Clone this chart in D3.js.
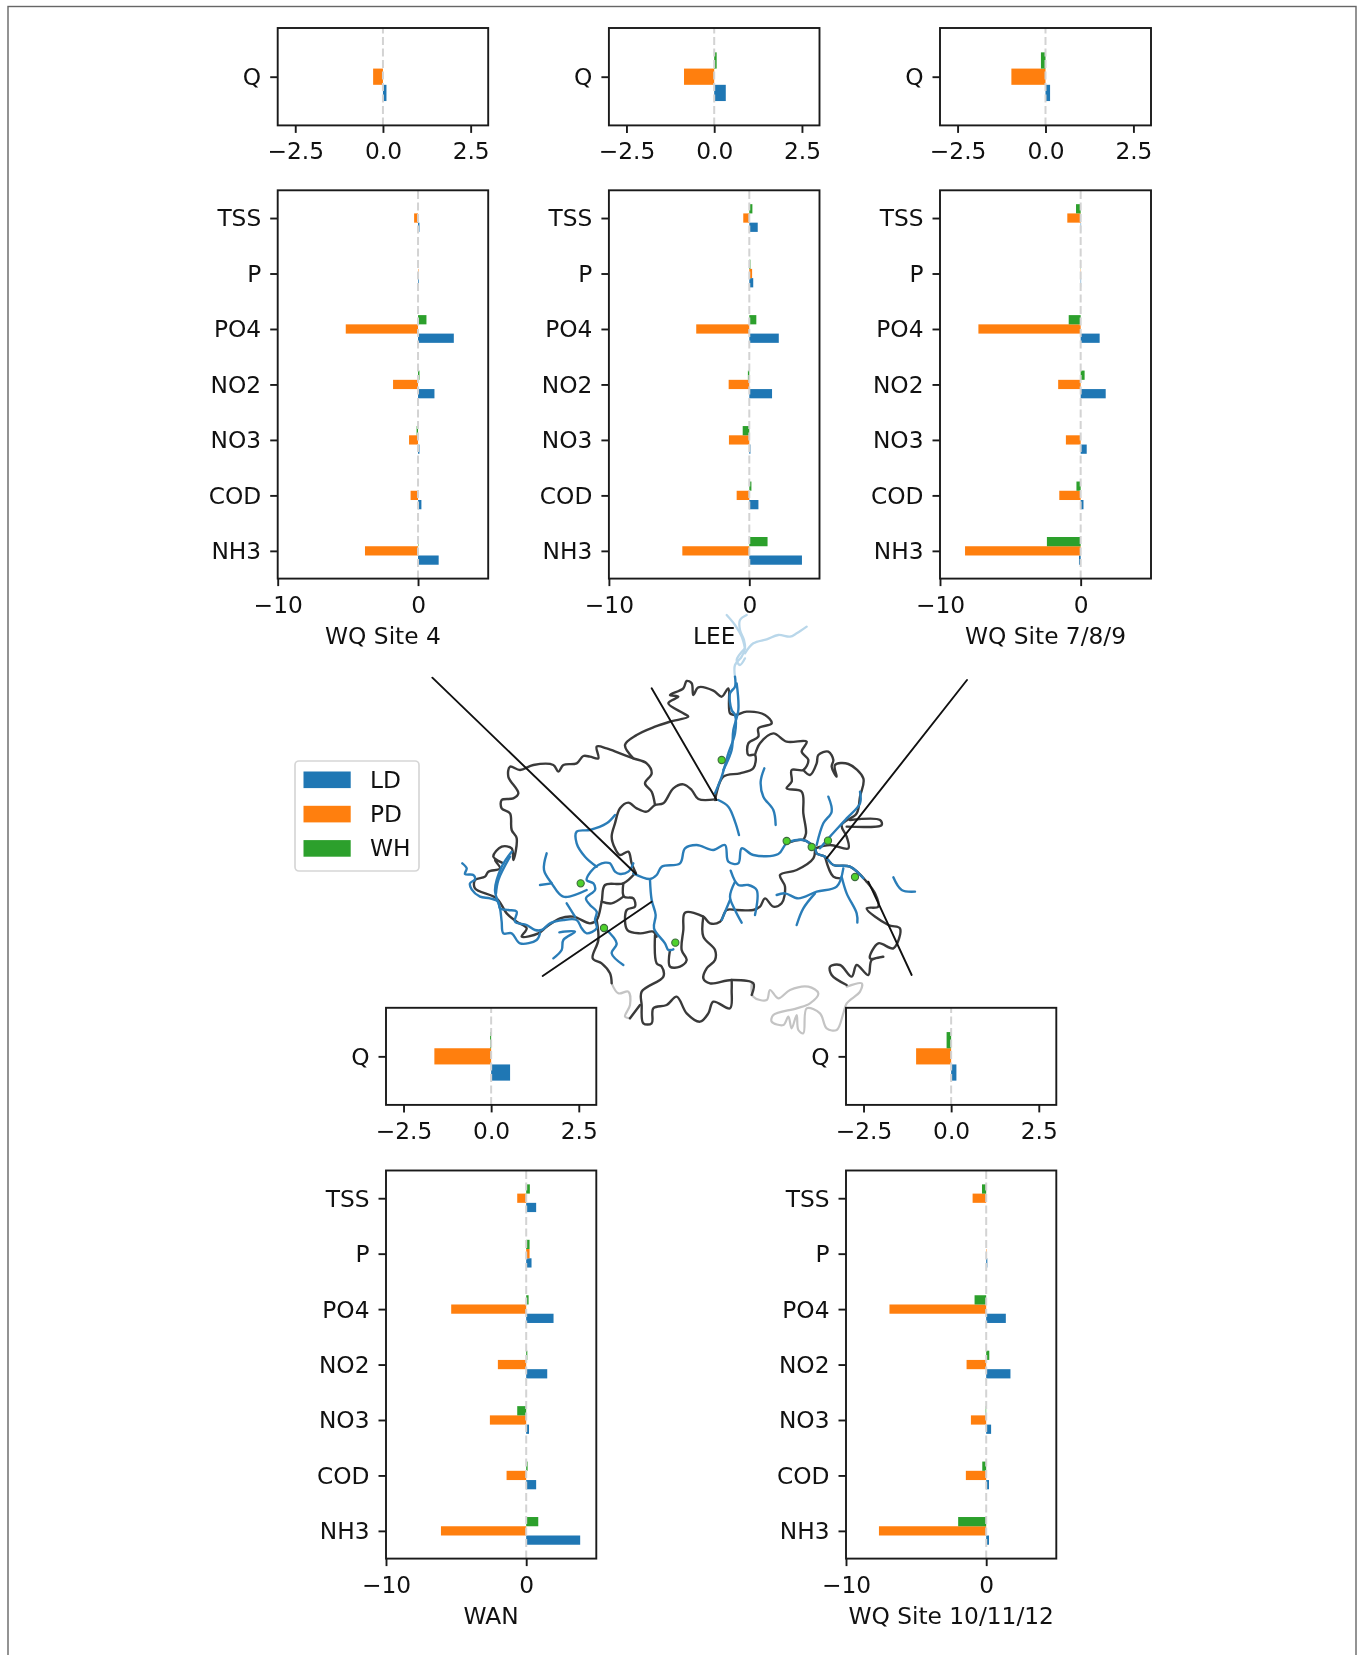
<!DOCTYPE html>
<html><head><meta charset="utf-8">
<script src="https://cdn.jsdelivr.net/npm/d3@7"></script>
<style>html,body{margin:0;padding:0;background:#fff}svg{display:block;filter:blur(0.45px)}text{font-family:"DejaVu Sans";fill:#111}</style>
</head><body><svg id="c" width="1363" height="1655"></svg>
<script>
const categories=["NH3","COD","NO3","NO2","PO4","P","TSS"];
const seriesNames=["LD","PD","WH"];
const seriesColors=["#1f77b4","#ff7f0e","#2ca02c"];
const mainTicks=[-10,0];
const qTicks=[-2.5,0,2.5];
const siteNames=["WQ Site 4","LEE","WQ Site 7/8/9","WAN","WQ Site 10/11/12"];
// values ordered as categories (NH3 ... TSS)
const site4LD=[1.47,0.24,0.1,1.17,2.55,0.05,0.1];
const site4PD=[-3.78,-0.53,-0.64,-1.78,-5.15,0.03,-0.28];
const site4WH=[0.03,0.0,-0.1,0.1,0.6,0,0];
const leeLD=[3.75,0.65,0.08,1.62,2.1,0.28,0.6];
const leePD=[-4.77,-0.9,-1.45,-1.47,-3.78,0.2,-0.43];
const leeWH=[1.3,0.15,-0.47,-0.1,0.5,0.08,0.22];
const site789LD=[-0.12,0.2,0.43,1.78,1.35,0.03,0.03];
const site789PD=[-8.22,-1.52,-1.05,-1.6,-7.27,0.02,-0.95];
const site789WH=[-2.4,-0.3,0,0.28,-0.85,0.02,-0.33];
const wanLD=[3.85,0.71,0.2,1.5,1.95,0.38,0.71];
const wanPD=[-6.08,-1.4,-2.59,-2.02,-5.35,0.24,-0.64];
const wanWH=[0.86,0.1,-0.64,0.08,0.17,0.24,0.26];
const site101112LD=[0.2,0.2,0.35,1.73,1.4,0.08,0];
const site101112PD=[-7.65,-1.45,-1.09,-1.4,-6.9,0.03,-0.97];
const site101112WH=[-2.0,-0.28,-0.04,0.22,-0.83,0,-0.3];
const qLD=[0.1,0.33,0.13,0.54,0.15];
const qPD=[-0.28,-0.86,-0.97,-1.62,-1.0];
const qWH=[0,0.07,-0.13,-0.03,-0.13];

// map geometry in source map units
const boundaries=[
[[885,598],[835,597],[815,570],[790,553],[760,565],[730,610],[705,615],[680,635],[650,625],[625,608],[600,625],[585,670],[575,710],[585,745],[600,765],[625,755],[635,790],[648,820]],
[[705,615],[695,575],[675,550],[695,520],[680,490],[640,475],[600,460],[560,445],[530,440],[535,475],[510,470],[490,468],[470,490],[430,495],[415,515],[400,495],[340,495],[300,510],[270,500],[265,530],[295,580],[280,595],[245,600],[245,625],[270,640],[275,690],[290,715],[280,780],[275,745],[245,740],[220,770],[250,790],[225,780],[240,805],[205,815],[195,830],[165,840],[165,865],[230,895],[260,940],[290,965],[320,985],[305,1010],[355,1000],[380,980],[420,955],[460,950],[510,970],[530,960],[545,905],[555,855],[610,850],[645,820]],
[[640,475],[615,435],[650,405],[705,380],[750,365],[805,350],[790,340],[745,310],[775,290],[750,285],[790,265],[800,243],[815,250],[820,285],[835,262],[880,272],[905,290],[925,265],[930,340],[945,345],[980,335],[1035,345],[1055,370],[1015,385],[1015,410],[985,430],[985,465],[1005,465],[1000,505],[960,520],[910,530],[885,600]],
[[1005,465],[1020,430],[1060,400],[1100,425],[1160,425],[1145,455],[1165,480],[1150,510],[1115,510],[1115,545],[1100,565],[1145,575],[1150,640],[1158,700],[1150,720]],
[[1150,510],[1170,525],[1190,490],[1195,465],[1225,455],[1240,480],[1235,500],[1250,530],[1245,495],[1285,492],[1330,535],[1320,590],[1310,640],[1265,675],[1280,710],[1285,745],[1230,735],[1185,745]],
[[1290,660],[1380,660],[1385,675],[1280,680]],
[[1100,730],[1150,720],[1185,745],[1190,760],[1215,770],[1240,795],[1290,800],[1340,845]],
[[1185,745],[1180,775],[1130,810],[1080,825],[1095,860],[1085,910],[1060,920],[1035,895],[1020,920],[1000,930],[950,930],[920,930],[900,965],[870,970],[850,950],[795,938],[790,990],[785,1050],[800,1080],[780,1100],[750,1100],[750,1050]],
[[850,950],[850,1010],[885,1050],[885,1080],[860,1105],[850,1135],[870,1150],[935,1140],[1000,1150],[995,1185]],
[[705,1005],[710,1090],[725,1100],[730,1130],[665,1175],[665,1215],[670,1270],[695,1270],[700,1225],[740,1215],[770,1190],[800,1240],[840,1265],[865,1240],[880,1205],[930,1225],[935,1170],[935,1140]],
[[660,1215],[630,1255]],
[[610,850],[612,890],[640,895],[645,920],[620,930],[622,990],[660,1000],[700,995],[710,1010]],
[[545,905],[575,910],[610,890]],
[[530,960],[535,1020],[518,1075],[545,1090],[570,1120],[575,1150]],
[[1215,770],[1240,830],[1265,835]],
[[1340,845],[1365,880],[1375,920],[1340,925],[1405,975],[1440,985],[1420,1045],[1375,1030],[1350,1075],[1390,1070],[1355,1080],[1345,1125],[1310,1095],[1295,1130],[1260,1095],[1230,1100],[1235,1125],[1280,1155]]
];
const coastGrey=[
[[575,1150],[595,1180],[625,1175],[630,1215],[615,1250],[630,1255]],
[[995,1150],[1000,1190],[1040,1200],[1050,1170],[1075,1195],[1110,1170],[1165,1160],[1195,1180],[1170,1210],[1130,1225],[1060,1245],[1055,1265],[1090,1275],[1105,1250],[1115,1285],[1130,1245],[1135,1290],[1150,1300],[1160,1225],[1200,1240],[1220,1285],[1250,1290],[1270,1240],[1280,1210],[1320,1175],[1325,1150],[1280,1160]]
];
const riversLight=[
[[920,45],[945,75],[965,110],[975,145]],
[[980,45],[960,60],[960,90],[972,120],[975,145],[965,170],[945,195],[945,230]],
[[975,160],[1000,130],[1040,118],[1075,105],[1110,110],[1130,100],[1160,80]],
[[975,145],[950,180],[960,195],[975,175]]
];
const rivers=[
[[127,790],[140,805],[135,822],[160,825],[165,838],[150,850],[155,868],[180,890],[210,895],[235,905],[240,925],[265,930],[290,935],[285,965],[320,975],[345,990],[365,990],[390,970],[430,960],[470,960],[485,985],[500,1000],[530,985],[525,960],[530,935],[510,915],[498,895],[525,870],[520,850],[500,840],[512,815],[535,795],[555,788],[570,790],[585,815],[600,822],[625,815],[640,790]],
[[640,820],[690,837],[710,825],[725,800],[780,790],[795,745],[830,735],[880,750],[915,735],[925,785],[955,790],[965,745],[1000,765],[1075,762],[1100,730],[1150,720],[1185,745],[1190,760],[1215,770],[1240,795],[1290,800],[1330,835]],
[[945,230],[945,260],[930,280],[935,330],[945,345],[945,400],[925,460],[905,530],[885,580]],
[[950,250],[955,330],[940,390],[935,450],[910,510]],
[[895,600],[925,620],[945,665],[957,705]],
[[1033,505],[1022,545],[1030,590],[1060,630],[1067,675]],
[[1225,590],[1235,635],[1210,670],[1190,735]],
[[1320,575],[1320,610],[1280,655],[1230,710],[1200,745]],
[[1420,832],[1445,870],[1485,875]],
[[1070,885],[1095,880],[1135,895],[1190,875],[1250,860],[1270,805]],
[[1185,880],[1150,925],[1130,975]],
[[1265,830],[1280,880],[1310,940],[1312,968]],
[[932,812],[955,855],[985,855],[1010,870],[1005,945]],
[[945,845],[930,890],[945,930],[965,968]],
[[930,900],[905,960]],
[[690,840],[695,900],[707,945],[702,985],[735,1030],[745,1050],[760,1048]],
[[585,645],[560,670],[510,690],[470,695],[470,730],[495,770],[530,800]],
[[380,760],[372,810],[395,850],[430,890],[500,870]],
[[360,855],[395,850]],
[[440,910],[465,950]],
[[418,997],[465,995],[430,1020],[425,1050],[400,1075]],
[[555,985],[590,1030],[575,1060],[610,1095]],
[[275,755],[245,800],[225,870],[240,925],[245,965],[250,1000],[275,1000],[300,1030],[350,1020],[360,1000]],
[[270,770],[235,840],[228,880]]
];
const sites=[[905,480],[482,850],[552,984],[766,1028],[1100,723],[1175,741],[1224,722],[1305,831]];
const leaders=[
[[37,233],[648,822]],
[[695,265],[890,600]],
[[1641,240],[1220,775]],
[[1475,1125],[1345,845]],
[[368,1128],[695,905]]
];

const svg=d3.select("#c");
const FS=23.3, INK="#1a1a1a";
svg.append("rect").attr("x",8).attr("y",6.5).attr("width",1348).attr("height",1700).attr("fill","none").attr("stroke","#666").attr("stroke-width",1.4);

// map
const mapX=d3.scaleLinear().domain([0,1560]).range([420,940]);
const mapY=d3.scaleLinear().domain([0,1350]).range([600,1050]);
const ln=d3.line().x(d=>mapX(d[0])).y(d=>mapY(d[1])).curve(d3.curveCatmullRom.alpha(0.5));
const gm=svg.append("g").attr("fill","none").attr("stroke-linejoin","round").attr("stroke-linecap","round");
const drawSet=(arr,col,w)=>gm.append("g").selectAll("path").data(arr).join("path").attr("d",ln).attr("stroke",col).attr("stroke-width",w);

// axes panel
function panel(x0,x1,qY0,qY1,mY0,mY1,i,ld,pd,wh){
  const g=svg.append("g");
  const sx=d3.scaleLinear().domain([-3,3]).range([x0,x1]);
  const mx=d3.scaleLinear().domain([-10,5]).range([x0,x1]);
  const yQ=d3.scaleLinear().domain([-0.5,0.5]).range([qY1,qY0]);
  const yM=d3.scaleLinear().domain([-0.5,6.5]).range([mY1,mY0]);
  const bw=0.5/3;
  function bars(xs,ys,rows){
    const gb=g.append("g");
    rows.forEach(([v,y,idx])=>{
      gb.append("rect").attr("x",Math.min(xs(0),xs(v))).attr("width",Math.abs(xs(v)-xs(0)))
        .attr("y",ys(y+bw/2)).attr("height",ys(y-bw/2)-ys(y+bw/2)).attr("fill",seriesColors[idx]);
    });
    gb.append("line").attr("x1",xs(0)).attr("x2",xs(0)).attr("y1",ys.range()[0]).attr("y2",ys.range()[1])
      .attr("stroke","#d3d3d3").attr("stroke-width",2).attr("stroke-dasharray","8,3.5");
  }
  bars(sx,yQ,[[qLD[i],-bw,0],[qPD[i],0,1],[qWH[i],bw,2]]);
  const rows=[];
  categories.forEach((c,k)=>{rows.push([ld[k],k-bw,0],[pd[k],k,1],[wh[k],k+bw,2]);});
  bars(mx,yM,rows);
  function frame(xs,ys,ticks,fmt,cats,pad){
    const b=ys.range()[0], t=ys.range()[1];
    const ax=g.append("g").attr("transform",`translate(0,${b})`).call(d3.axisBottom(xs).tickValues(ticks).tickFormat(fmt).tickSize(7.5).tickPadding(pad));
    const ay=g.append("g").attr("transform",`translate(${x0},0)`).call(cats);
    ay.selectAll("text").attr("dy","0.34em");
    [ax,ay].forEach(a=>{a.select(".domain").remove();a.selectAll("line").attr("stroke",INK).attr("stroke-width",1.9);a.selectAll("text").attr("font-family","DejaVu Sans").attr("font-size",FS).attr("fill",INK);});
    g.append("rect").attr("x",x0).attr("y",t).attr("width",x1-x0).attr("height",b-t).attr("fill","none").attr("stroke",INK).attr("stroke-width",1.9);
  }
  const zero=d=>d.toFixed(1).replace("-","\u2212");
  frame(sx,yQ,qTicks,zero,d3.axisLeft(d3.scaleLinear().domain([0,1]).range([yQ(0),yQ(0)])).tickValues([0]).tickFormat(()=>"Q").tickSize(7.5).tickPadding(9),9.8);
  frame(mx,yM,mainTicks,d=>String(d).replace("-","\u2212"),d3.axisLeft(yM).tickValues(d3.range(categories.length)).tickFormat(k=>categories[k]).tickSize(7.5).tickPadding(9),10);
  g.append("text").attr("x",(x0+x1)/2).attr("y",mY1+65.5).attr("text-anchor","middle").attr("font-size",FS).attr("fill",INK).text(siteNames[i]);
}
panel(277.7,488.2,28,125.4,190.3,578.6,0,site4LD,site4PD,site4WH);
panel(608.9,819.5,28,125.4,190.3,578.6,1,leeLD,leePD,leeWH);
panel(940,1151,28,125.4,190.3,578.6,2,site789LD,site789PD,site789WH);

drawSet(coastGrey,"#c4c4c4",2.2);
drawSet(riversLight,"#b9d7ea",2.3);
drawSet(boundaries,"#3a3a3a",2.4);
drawSet(rivers,"#2a7db8",2.4);
gm.append("g").selectAll("path").data(leaders).join("path").attr("d",d3.line().x(d=>mapX(d[0])).y(d=>mapY(d[1]))).attr("stroke","#111").attr("stroke-width",1.9);
gm.append("g").selectAll("circle").data(sites).join("circle").attr("cx",d=>mapX(d[0])).attr("cy",d=>mapY(d[1])).attr("r",3.6).attr("fill","#4fd12c").attr("stroke","#3c6b3c").attr("stroke-width",1.1);

panel(386,596.3,1007.8,1104.9,1170.5,1558.6,3,wanLD,wanPD,wanWH);
panel(846,1056.3,1007.8,1104.9,1170.5,1558.6,4,site101112LD,site101112PD,site101112WH);

// legend
const lg=svg.append("g");
lg.append("rect").attr("x",295).attr("y",761).attr("width",124).attr("height",110).attr("rx",4).attr("fill","#fff").attr("stroke","#d6d6d6").attr("stroke-width",1.7);
seriesNames.forEach((n,i)=>{
  const y=780+i*34.3;
  lg.append("rect").attr("x",303.5).attr("y",y-8.5).attr("width",47.2).attr("height",16.6).attr("fill",seriesColors[i]);
  lg.append("text").attr("x",370).attr("y",y+7.8).attr("font-size",FS).attr("fill",INK).text(n);
});
</script></body></html>
